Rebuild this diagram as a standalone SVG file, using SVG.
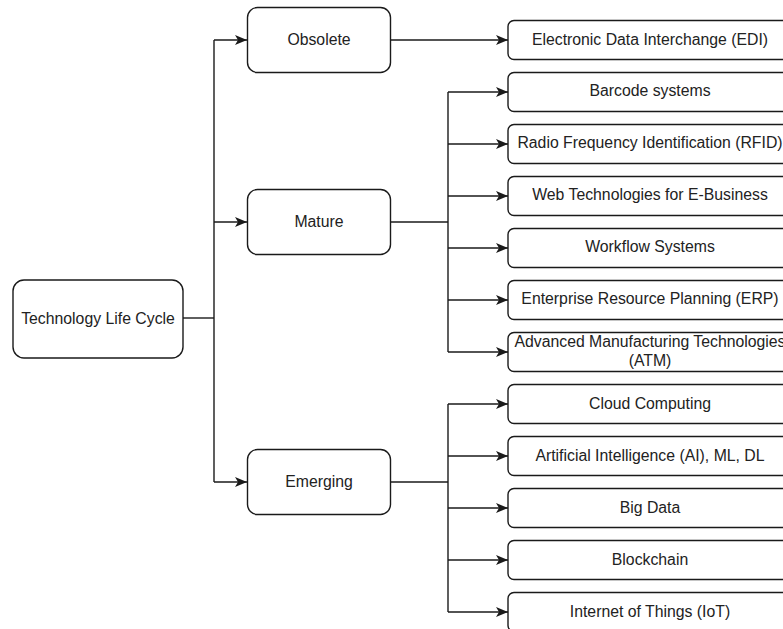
<svg xmlns="http://www.w3.org/2000/svg" width="783" height="629" viewBox="0 0 783 629">
  <style>
    .box { fill: #ffffff; stroke: #1a1a1a; stroke-width: 1.4; }
    .lbl { font-family: "Liberation Sans", Arial, sans-serif; font-size: 15.8px; fill: #222222; text-anchor: middle; }
    .wire { fill: none; stroke: #1a1a1a; stroke-width: 1.4; }
  </style>
  <defs>
    <marker id="arrow" viewBox="0 0 12 10" refX="12" refY="5" markerWidth="12" markerHeight="10" markerUnits="userSpaceOnUse" orient="auto">
      <path d="M0,0 L12,5 L0,10 L3,5 Z" fill="#1a1a1a"/>
    </marker>
  </defs>
  <rect width="783" height="629" fill="#ffffff"/>

  <!-- connectors -->
  <g id="connectors">
    <path class="wire" d="M183,318 H214"/>
    <path class="wire" d="M214,40 V482"/>
    <path class="wire" d="M214,40 H247" marker-end="url(#arrow)"/>
    <path class="wire" d="M214,222 H247" marker-end="url(#arrow)"/>
    <path class="wire" d="M214,482 H247" marker-end="url(#arrow)"/>

    <path class="wire" d="M391,40 H508" marker-end="url(#arrow)"/>

    <path class="wire" d="M391,222 H448"/>
    <path class="wire" d="M448,92 V352"/>
    <path class="wire" d="M448,92 H508" marker-end="url(#arrow)"/>
    <path class="wire" d="M448,144 H508" marker-end="url(#arrow)"/>
    <path class="wire" d="M448,196 H508" marker-end="url(#arrow)"/>
    <path class="wire" d="M448,248 H508" marker-end="url(#arrow)"/>
    <path class="wire" d="M448,300 H508" marker-end="url(#arrow)"/>
    <path class="wire" d="M448,352 H508" marker-end="url(#arrow)"/>

    <path class="wire" d="M391,482 H448"/>
    <path class="wire" d="M448,404 V612"/>
    <path class="wire" d="M448,404 H508" marker-end="url(#arrow)"/>
    <path class="wire" d="M448,456 H508" marker-end="url(#arrow)"/>
    <path class="wire" d="M448,508 H508" marker-end="url(#arrow)"/>
    <path class="wire" d="M448,560 H508" marker-end="url(#arrow)"/>
    <path class="wire" d="M448,612 H508" marker-end="url(#arrow)"/>
  </g>

  <!-- root -->
  <g id="root">
    <rect class="box" x="13" y="280" width="170" height="78" rx="11"/>
    <text class="lbl" x="98" y="323.5">Technology Life Cycle</text>
  </g>

  <!-- stages -->
  <g id="obsolete">
    <rect class="box" x="247.5" y="7.5" width="143" height="65" rx="10"/>
    <text class="lbl" x="319" y="45">Obsolete</text>
  </g>
  <g id="mature">
    <rect class="box" x="247.5" y="189.5" width="143" height="65" rx="10"/>
    <text class="lbl" x="319" y="227">Mature</text>
  </g>
  <g id="emerging">
    <rect class="box" x="247.5" y="449.5" width="143" height="65" rx="10"/>
    <text class="lbl" x="319" y="487">Emerging</text>
  </g>

  <!-- technologies -->
  <g id="edi">
    <rect class="box" x="508" y="20.5" width="284" height="39" rx="6"/>
    <text class="lbl" x="650" y="44.5">Electronic Data Interchange (EDI)</text>
  </g>
  <g id="barcode">
    <rect class="box" x="508" y="72.5" width="284" height="39" rx="6"/>
    <text class="lbl" x="650" y="95.5">Barcode systems</text>
  </g>
  <g id="rfid">
    <rect class="box" x="508" y="124.5" width="284" height="39" rx="6"/>
    <text class="lbl" x="650" y="147.5">Radio Frequency Identification (RFID)</text>
  </g>
  <g id="web">
    <rect class="box" x="508" y="176.5" width="284" height="39" rx="6"/>
    <text class="lbl" x="650" y="199.5">Web Technologies for E-Business</text>
  </g>
  <g id="workflow">
    <rect class="box" x="508" y="228.5" width="284" height="39" rx="6"/>
    <text class="lbl" x="650" y="251.5">Workflow Systems</text>
  </g>
  <g id="erp">
    <rect class="box" x="508" y="280.5" width="284" height="39" rx="6"/>
    <text class="lbl" x="650" y="303.5">Enterprise Resource Planning (ERP)</text>
  </g>
  <g id="atm">
    <rect class="box" x="508" y="332.5" width="284" height="39" rx="6"/>
    <text class="lbl" x="650" y="346.5">Advanced Manufacturing Technologies</text>
    <text class="lbl" x="650" y="365.5">(ATM)</text>
  </g>
  <g id="cloud">
    <rect class="box" x="508" y="384.5" width="284" height="39" rx="6"/>
    <text class="lbl" x="650" y="408.5">Cloud Computing</text>
  </g>
  <g id="ai">
    <rect class="box" x="508" y="436.5" width="284" height="39" rx="6"/>
    <text class="lbl" x="650" y="460.5">Artificial Intelligence (AI), ML, DL</text>
  </g>
  <g id="bigdata">
    <rect class="box" x="508" y="488.5" width="284" height="39" rx="6"/>
    <text class="lbl" x="650" y="512.5">Big Data</text>
  </g>
  <g id="blockchain">
    <rect class="box" x="508" y="540.5" width="284" height="39" rx="6"/>
    <text class="lbl" x="650" y="564.5">Blockchain</text>
  </g>
  <g id="iot">
    <rect class="box" x="508" y="592.5" width="284" height="39" rx="6"/>
    <text class="lbl" x="650" y="616.5">Internet of Things (IoT)</text>
  </g>
</svg>
